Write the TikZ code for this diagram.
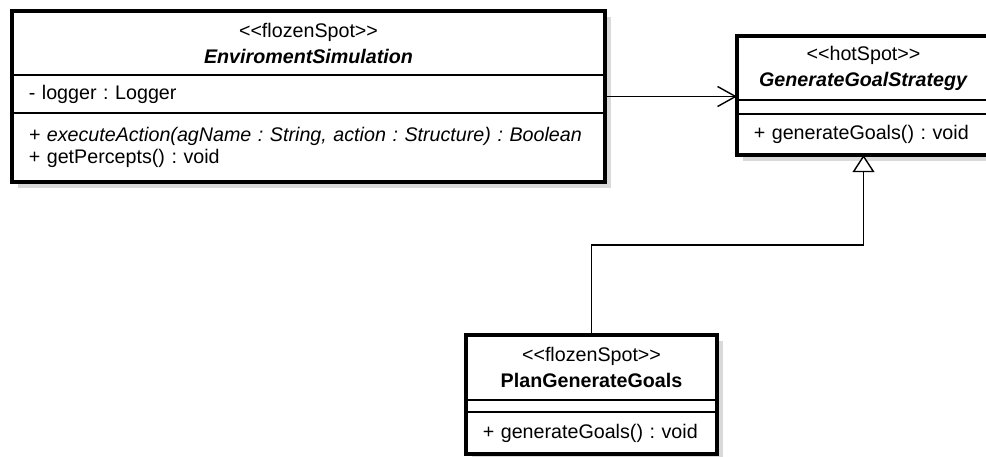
\documentclass[tikz,border=0pt]{standalone}
\usepackage{fontspec}
\setmainfont{Liberation Sans}
\frenchspacing
\usetikzlibrary{calc,shapes,positioning,fit,backgrounds,shadows,arrows.meta}

\tikzset{
  classpart/.style={draw, line width=0.9pt, outer sep=0pt, inner xsep=0.42cm, inner ysep=0pt,
    align=left, font=\fontsize{14}{15.5}\selectfont},
  classhead/.style={classpart, align=center, font=\fontsize{14}{18.5}\selectfont},
  classframe/.style={draw, line width=2.2pt, fill=white, inner sep=0pt, outer sep=0pt,
    drop shadow={shadow xshift=0.15cm, shadow yshift=-0.15cm, fill=black!15, opacity=1}},
  assoc/.style={line width=1pt, -{Straight Barb[length=0.45cm, width=0.5cm]}},
  inherit/.style={line width=1pt, -{Triangle[length=0.43cm, width=0.55cm, fill=white]}}
}

\begin{document}
\begin{tikzpicture}
  \useasboundingbox (0,0) rectangle (24.65,-11.4);

  % EnviromentSimulation
  \node [classhead, anchor=north west, text width=13.985cm, minimum height=1.6cm] (envhead) at (0.3,-0.275)
    {<{}<flozenSpot>{}>\\\textbf{\textit{EnviromentSimulation}}};
  \node [classpart, text width=13.985cm, minimum height=0.95cm] (envattr) [below=0pt of envhead] {- logger : Logger};
  \node [classpart, text width=13.985cm, minimum height=1.725cm] (envops) [below=0pt of envattr]
    {\textit{+ executeAction(agName : String, action : Structure) : Boolean}\\+ getPercepts() : void};

  % GenerateGoalStrategy
  \node [classhead, anchor=north west, text width=5.485cm, minimum height=1.6cm] (genhead) at (18.425,-0.9)
    {<{}<hotSpot>{}>\\\textbf{\textit{GenerateGoalStrategy}}};
  \node [classpart, text width=5.485cm, minimum height=0.35cm] (genattr) [below=0pt of genhead] {};
  \node [classpart, text width=5.485cm, minimum height=1.025cm] (genops) [below=0pt of genattr] {+ generateGoals() : void};

  % PlanGenerateGoals
  \node [classhead, anchor=north west, text width=5.435cm, minimum height=1.625cm] (planhead) at (11.65,-8.375)
    {<{}<flozenSpot>{}>\\\textbf{PlanGenerateGoals}};
  \node [classpart, text width=5.435cm, minimum height=0.3cm] (planattr) [below=0pt of planhead] {};
  \node [classpart, text width=5.435cm, minimum height=1.05cm] (planops) [below=0pt of planattr] {+ generateGoals() : void};

  \begin{scope}[on background layer]
    \node [classframe, fit=(envhead)(envops)] (env) {};
    \node [classframe, fit=(genhead)(genops)] (gen) {};
    \node [classframe, fit=(planhead)(planops)] (plan) {};
  \end{scope}

  \draw [assoc] (env.east) -- (env.east -| gen.west);
  \draw [inherit] (plan.north) |- ($(plan.north)!.5!(gen.south)$) -| (gen.south);
\end{tikzpicture}
\end{document}
